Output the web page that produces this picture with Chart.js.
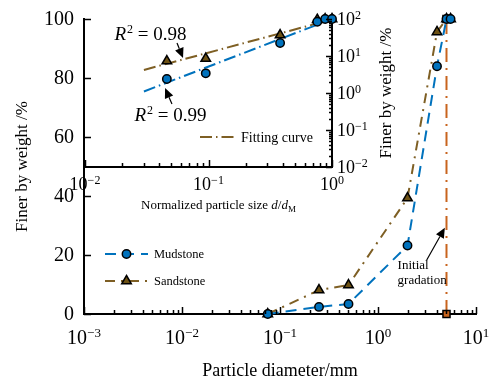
<!DOCTYPE html>
<html>
<head>
<meta charset="utf-8">
<script src="https://cdn.jsdelivr.net/npm/chart.js@4.4.1/dist/chart.umd.min.js"></script>
<style>
  body { margin: 0; background: #fff; }
  #wrap { position: relative; width: 496px; height: 383px; }
  #wrap canvas { position: absolute; left: 0; top: 0; }
</style>
</head>
<body>
<div id="wrap">
  <canvas id="main" width="496" height="383"></canvas>
  <canvas id="inset" width="496" height="230"></canvas>
</div>
<script>
// ---- data ----
// main plot: sieve size (mm) vs percent finer
const sizeMm    = [0.075, 0.25, 0.5, 2, 4, 5, 5.5];
const mudstone  = [0, 2.4, 3.4, 23.2, 84, 100, 100];
const sandstone = [0, 8.1, 9.8, 39.3, 95.6, 100, 100];
// initial gradation is a single size
const initSize  = [5, 5];
const initFiner = [0, 100];

// inset: normalized size d/dM (log-log)
const normSize  = [0.046, 0.095, 0.38, 0.76, 0.88, 1.0];
const mudNorm   = [2.4, 3.4, 22.4, 84, 100, 100];
const sandNorm  = [7.3, 8.5, 36.9, 95.6, 100, 100];
// fitting curves (power law, straight on log-log) - end points
const fitX      = [0.03, 1];
const fitMud    = [1.1, 100];
const fitSand   = [4.2, 97];

// tick labels
const mainXTicks  = [1e-3, 1e-2, 1e-1, 1, 10];
const mainYTicks  = [0, 20, 40, 60, 80, 100];
const insetXTicks = [1e-2, 1e-1, 1];
const insetYTicks = [1e-2, 1e-1, 1, 10, 100];

// annotations (data coordinates of the chart they sit in)
const r2Notes = [
  { value: '0.98', at: [0.0336, 39], from: [0.0556, 22.4], to: [0.0622, 8.8] },
  { value: '0.99', at: [0.0488, 0.254], from: [0.0506, 0.505], to: [0.0445, 1.36] }
];
const gradNote = { lines: ['Initial', 'gradation'], x: 1.585, ys: [16.3, 11.2], from: [3.14, 18.3], to: [4.81, 29.2] };

// ---- styles ----
const BLUE = '#0072BD';
const BROWN = '#7E5F24';
const ORANGE = '#C8641E';
const serif = '"Liberation Serif", "Times New Roman", serif';

function pts(xs, ys) { return xs.map((x, i) => ({ x: x, y: ys[i] })); }

function expStr(v) {
  const e = Math.round(Math.log10(v));
  return e < 0 ? '\u2212' + (-e) : String(e);
}

// "10" with a raised exponent
function powLabel(ctx, v, x, y, align, bSize, eSize) {
  const ex = expStr(v);
  ctx.font = bSize + 'px ' + serif;
  const wb = ctx.measureText('10').width;
  ctx.font = eSize + 'px ' + serif;
  const we = ctx.measureText(ex).width;
  const x0 = align === 'center' ? x - (wb + we) / 2 : x;
  ctx.textAlign = 'left';
  ctx.textBaseline = 'alphabetic';
  ctx.font = bSize + 'px ' + serif;
  ctx.fillText('10', x0, y);
  ctx.font = eSize + 'px ' + serif;
  ctx.fillText(ex, x0 + wb, y - bSize * 0.36);
}

// minor ticks for log axes: 2..9 of each decade
function logMinor(min, max) {
  const out = [];
  for (let d = min; d < max * 0.999; d *= 10) {
    for (let k = 2; k < 10; k++) out.push(d * k);
  }
  return out;
}

function marker(ctx, style, x, y, r, fill) {
  ctx.save();
  ctx.setLineDash([]);
  ctx.fillStyle = fill;
  ctx.strokeStyle = '#000';
  ctx.lineWidth = 1.5;
  ctx.beginPath();
  if (style === 'circle') {
    ctx.arc(x, y, r, 0, Math.PI * 2);
  } else if (style === 'triangle') {
    ctx.moveTo(x, y - r);
    ctx.lineTo(x + r * 0.87, y + r * 0.5);
    ctx.lineTo(x - r * 0.87, y + r * 0.5);
    ctx.closePath();
  } else {
    ctx.rect(x - r * 0.7, y - r * 0.7, r * 1.4, r * 1.4);
  }
  ctx.fill();
  ctx.stroke();
  ctx.restore();
}

function arrow(ctx, x1, y1, x2, y2) {
  const ang = Math.atan2(y2 - y1, x2 - x1);
  const len = 10, half = 4.5;
  const bx = x2 - len * Math.cos(ang), by = y2 - len * Math.sin(ang);
  ctx.save();
  ctx.setLineDash([]);
  ctx.strokeStyle = '#000';
  ctx.fillStyle = '#000';
  ctx.lineWidth = 1.2;
  ctx.beginPath();
  ctx.moveTo(x1, y1);
  ctx.lineTo(bx, by);
  ctx.stroke();
  ctx.beginPath();
  ctx.moveTo(x2, y2);
  ctx.lineTo(bx + half * Math.sin(ang), by - half * Math.cos(ang));
  ctx.lineTo(bx - half * Math.sin(ang), by + half * Math.cos(ang));
  ctx.closePath();
  ctx.fill();
  ctx.restore();
}

// legend row: dashed line with the marker in the middle
function legendRow(ctx, ds, x1, x2, y, label, size) {
  ctx.save();
  ctx.strokeStyle = ds.borderColor;
  ctx.lineWidth = ds.borderWidth;
  ctx.setLineDash(ds.borderDash || []);
  ctx.beginPath();
  ctx.moveTo(x1, y);
  ctx.lineTo(x2, y);
  ctx.stroke();
  ctx.restore();
  if (ds.pointRadius > 0) marker(ctx, ds.pointStyle, (x1 + x2) / 2, y, ds.pointRadius, ds.pointBackgroundColor);
  ctx.fillStyle = '#000';
  ctx.font = size + 'px ' + serif;
  ctx.textAlign = 'left';
  ctx.textBaseline = 'middle';
  ctx.fillText(label, x2 + 6, y + 1);
}

// ---- main chart decorations: inward ticks, tick labels, legend, note ----
const mainDecor = {
  id: 'mainDecor',
  afterDraw(chart) {
    const { ctx, chartArea: a, scales: { x, y } } = chart;
    ctx.save();
    ctx.strokeStyle = '#000';
    ctx.lineWidth = 1.5;
    ctx.beginPath();
    mainXTicks.forEach(v => {
      const px = Math.round(x.getPixelForValue(v)) + 0.5;
      ctx.moveTo(px, a.bottom); ctx.lineTo(px, a.bottom - 7);
    });
    logMinor(1e-3, 10).forEach(v => {
      const px = Math.round(x.getPixelForValue(v)) + 0.5;
      ctx.moveTo(px, a.bottom); ctx.lineTo(px, a.bottom - 4);
    });
    mainYTicks.forEach(v => {
      const py = Math.round(y.getPixelForValue(v)) + 0.5;
      ctx.moveTo(a.left, py); ctx.lineTo(a.left + 7, py);
    });
    ctx.stroke();

    ctx.fillStyle = '#000';
    mainXTicks.forEach(v => powLabel(ctx, v, x.getPixelForValue(v), a.bottom + 30, 'center', 20, 13));
    ctx.font = '20px ' + serif;
    ctx.textAlign = 'right';
    ctx.textBaseline = 'middle';
    mainYTicks.forEach(v => ctx.fillText(String(v), a.left - 10, y.getPixelForValue(v) + 1));

    // legend
    const ds = chart.data.datasets;
    legendRow(ctx, ds[0], a.left + 21, a.left + 64, a.top + 235, ds[0].label, 12.5);
    legendRow(ctx, ds[1], a.left + 21, a.left + 64, a.top + 262, ds[1].label, 12.5);

    // initial gradation note
    ctx.fillStyle = '#000';
    ctx.font = '13px ' + serif;
    ctx.textAlign = 'left';
    ctx.textBaseline = 'middle';
    gradNote.lines.forEach((t, i) => ctx.fillText(t, x.getPixelForValue(gradNote.x), y.getPixelForValue(gradNote.ys[i])));
    arrow(ctx, x.getPixelForValue(gradNote.from[0]), y.getPixelForValue(gradNote.from[1]),
               x.getPixelForValue(gradNote.to[0]), y.getPixelForValue(gradNote.to[1]));
    ctx.restore();
  }
};

new Chart(document.getElementById('main'), {
  type: 'line',
  data: {
    datasets: [
      {
        label: 'Mudstone',
        data: pts(sizeMm, mudstone),
        borderColor: BLUE, borderWidth: 2, borderDash: [11, 7],
        pointStyle: 'circle', pointRadius: 4.2, pointBackgroundColor: BLUE,
        pointBorderColor: '#000', pointBorderWidth: 1.5,
        tension: 0, clip: false
      },
      {
        label: 'Sandstone',
        data: pts(sizeMm, sandstone),
        borderColor: BROWN, borderWidth: 2, borderDash: [10, 6, 2, 6],
        pointStyle: 'triangle', pointRadius: 5.5, pointBackgroundColor: '#6E5214',
        pointBorderColor: '#000', pointBorderWidth: 1.5,
        tension: 0, clip: false
      },
      {
        label: 'Initial gradation',
        data: pts(initSize, initFiner),
        borderColor: ORANGE, borderWidth: 2, borderDash: [14, 6, 2, 6],
        pointStyle: 'rect', pointRadius: 5, pointBackgroundColor: ORANGE,
        pointBorderColor: '#000', pointBorderWidth: 1.5,
        tension: 0, clip: false
      }
    ]
  },
  options: {
    responsive: false,
    animation: false,
    devicePixelRatio: 1,
    layout: { padding: { top: 19, right: 20, left: 0, bottom: 0 }, autoPadding: false },
    plugins: { legend: { display: false }, tooltip: { enabled: false } },
    scales: {
      x: {
        type: 'logarithmic', min: 1e-3, max: 10,
        grid: { display: false }, ticks: { display: false },
        border: { display: true, color: '#000', width: 2 },
        title: { display: true, text: 'Particle diameter/mm', color: '#000',
                 font: { family: serif, size: 18 }, padding: { top: 0, bottom: 1 } },
        afterFit(s) { s.height = 69; }
      },
      y: {
        type: 'linear', min: 0, max: 100,
        grid: { display: false }, ticks: { display: false },
        border: { display: true, color: '#000', width: 2 },
        title: { display: true, text: 'Finer by weight /%', color: '#000',
                 font: { family: serif, size: 17 }, padding: { top: 12, bottom: 0 } },
        afterFit(s) { s.width = 84; }
      }
    }
  },
  plugins: [mainDecor]
});

// ---- inset decorations ----
const insetDecor = {
  id: 'insetDecor',
  afterDraw(chart) {
    const { ctx, chartArea: a, scales: { x, y } } = chart;
    ctx.save();
    ctx.strokeStyle = '#000';
    ctx.lineWidth = 1.5;
    ctx.beginPath();
    insetXTicks.forEach(v => {
      const px = Math.round(x.getPixelForValue(v)) + 0.5;
      ctx.moveTo(px, a.bottom); ctx.lineTo(px, a.bottom - 7);
    });
    logMinor(1e-2, 1).forEach(v => {
      const px = Math.round(x.getPixelForValue(v)) + 0.5;
      ctx.moveTo(px, a.bottom); ctx.lineTo(px, a.bottom - 4);
    });
    insetYTicks.forEach(v => {
      const py = Math.round(y.getPixelForValue(v)) + 0.5;
      ctx.moveTo(a.right, py); ctx.lineTo(a.right - 6, py);
    });
    logMinor(1e-2, 100).forEach(v => {
      const py = Math.round(y.getPixelForValue(v)) + 0.5;
      ctx.moveTo(a.right, py); ctx.lineTo(a.right - 3, py);
    });
    ctx.stroke();

    ctx.fillStyle = '#000';
    insetXTicks.forEach(v => powLabel(ctx, v, x.getPixelForValue(v), a.bottom + 23, 'center', 18, 12));
    insetYTicks.forEach(v => powLabel(ctx, v, a.right + 5, y.getPixelForValue(v) + 6, 'left', 18, 12));

    // x title: Normalized particle size d/dM
    const parts = [
      ['Normalized particle size ', '13px ' + serif, 0],
      ['d', 'italic 13px ' + serif, 0],
      ['/', '13px ' + serif, 0],
      ['d', 'italic 13px ' + serif, 0],
      ['M', '9px ' + serif, 3]
    ];
    let tw = 0;
    parts.forEach(p => { ctx.font = p[1]; tw += ctx.measureText(p[0]).width; });
    let tx = (a.left + a.right) / 2 + 10 - tw / 2;
    const ty = a.bottom + 42;
    ctx.textAlign = 'left';
    ctx.textBaseline = 'alphabetic';
    parts.forEach(p => { ctx.font = p[1]; ctx.fillText(p[0], tx, ty + p[2]); tx += ctx.measureText(p[0]).width; });

    // right y title
    ctx.save();
    ctx.translate(a.right + 55, (a.top + a.bottom) / 2);
    ctx.rotate(-Math.PI / 2);
    ctx.font = '17px ' + serif;
    ctx.textAlign = 'center';
    ctx.textBaseline = 'middle';
    ctx.fillText('Finer by weight /%', 0, 0);
    ctx.restore();

    // legend for the fits
    legendRow(ctx, chart.data.datasets[3], a.left + 115, a.left + 150, a.top + 118, 'Fitting curve', 14);

    // R^2 notes
    r2Notes.forEach(n => {
      const cx = x.getPixelForValue(n.at[0]), cy = y.getPixelForValue(n.at[1]) + 6;
      const rest = ' = ' + n.value;
      ctx.font = 'italic 19px ' + serif; const w1 = ctx.measureText('R').width;
      ctx.font = '12px ' + serif; const w2 = ctx.measureText('2').width;
      ctx.font = '19px ' + serif; const w3 = ctx.measureText(rest).width;
      let sx = cx - (w1 + w2 + w3) / 2;
      ctx.textAlign = 'left';
      ctx.textBaseline = 'alphabetic';
      ctx.font = 'italic 19px ' + serif; ctx.fillText('R', sx, cy); sx += w1 + 1;
      ctx.font = '12px ' + serif; ctx.fillText('2', sx, cy - 7); sx += w2;
      ctx.font = '19px ' + serif; ctx.fillText(rest, sx, cy);
      arrow(ctx, x.getPixelForValue(n.from[0]), y.getPixelForValue(n.from[1]),
                 x.getPixelForValue(n.to[0]), y.getPixelForValue(n.to[1]));
    });
    ctx.restore();
  }
};

new Chart(document.getElementById('inset'), {
  type: 'line',
  data: {
    datasets: [
      {
        label: 'Mudstone', data: pts(normSize, mudNorm), showLine: false,
        pointStyle: 'circle', pointRadius: 4.2, pointBackgroundColor: BLUE,
        pointBorderColor: '#000', pointBorderWidth: 1.5, clip: false
      },
      {
        label: 'Sandstone', data: pts(normSize, sandNorm), showLine: false,
        pointStyle: 'triangle', pointRadius: 5.5, pointBackgroundColor: '#6E5214',
        pointBorderColor: '#000', pointBorderWidth: 1.5, clip: false
      },
      {
        label: 'Fit mudstone', data: pts(fitX, fitMud),
        borderColor: BLUE, borderWidth: 2, borderDash: [12, 4, 1.5, 4],
        pointRadius: 0, tension: 0
      },
      {
        label: 'Fitting curve', data: pts(fitX, fitSand),
        borderColor: BROWN, borderWidth: 2, borderDash: [12, 4, 1.5, 4],
        pointRadius: 0, tension: 0
      }
    ]
  },
  options: {
    responsive: false,
    animation: false,
    devicePixelRatio: 1,
    layout: { padding: { top: 19, right: 0, left: 85, bottom: 0 }, autoPadding: false },
    plugins: { legend: { display: false }, tooltip: { enabled: false } },
    scales: {
      x: {
        type: 'logarithmic', min: 0.01, max: 1,
        grid: { display: false }, ticks: { display: false },
        border: { display: true, color: '#000', width: 2 },
        afterFit(s) { s.height = 63; }
      },
      y: {
        type: 'logarithmic', position: 'right', min: 0.01, max: 100,
        grid: { display: false }, ticks: { display: false },
        border: { display: true, color: '#000', width: 2 },
        afterFit(s) { s.width = 164; }
      }
    }
  },
  plugins: [insetDecor]
});
</script>
</body>
</html>
